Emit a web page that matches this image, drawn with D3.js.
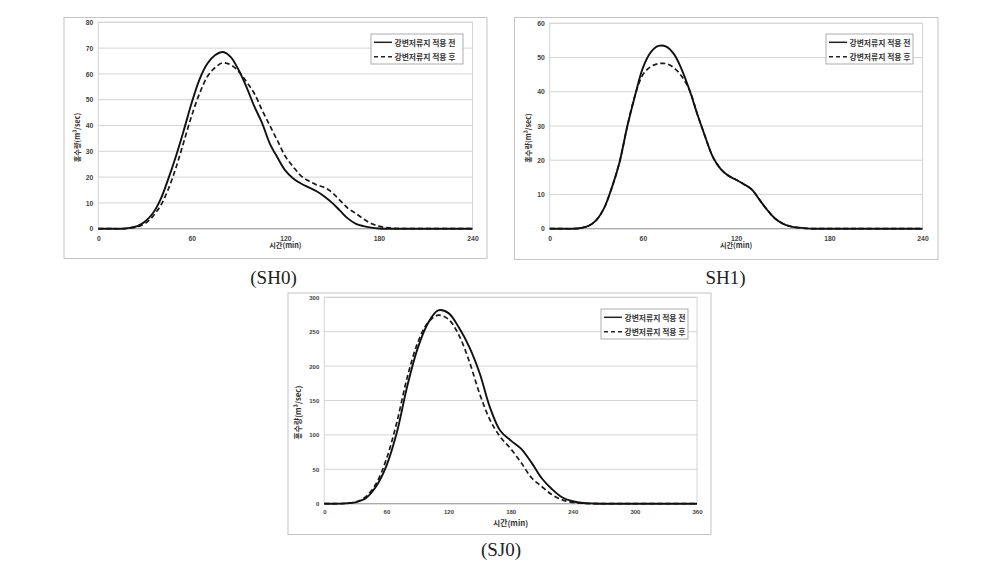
<!DOCTYPE html>
<html><head><meta charset="utf-8">
<script src="https://cdn.jsdelivr.net/npm/d3@7"></script>
<style>
html,body{margin:0;padding:0;background:#fff;}
svg{display:block;}
</style></head>
<body>
<svg id="chart" width="1007" height="565"></svg>
<script>
// ---------- DATA ----------
const seriesNames = ["강변저류지 적용 전", "강변저류지 적용 후"];
const captions = ["(SH0)", "SH1)", "(SJ0)"];
const xAxisTitle = "시간(min)";
const yAxisTitle = "홍수량(m³/sec)";

const sh0Time = [0,5,10,15,20,25,30,35,40,45,50,55,60,65,70,75,80,85,90,95,100,105,110,115,120,125,130,135,140,145,150,155,160,165,170,175,180,185,190,195,200,240];
const sh0Before = [0,0,0,0,0.3,1.0,2.8,6,11.5,19.5,28.5,38.5,49,58,64,67.3,68.5,66.5,61.5,55,47.5,41,33,27.5,22.5,19.5,17.5,16,14.5,12.5,10,7,4,2,1,0.4,0.1,0,0,0,0,0];
const sh0After  = [0,0,0,0,0.2,0.7,2,4.8,9,15.5,24,34,44,52.5,59,62.5,64.3,63.5,61,57,52.5,46,40,34,28,24,20.5,18.5,17,16,14,11,8,6,3.8,2,1,0.4,0.1,0,0,0];
const sh0XTicks = [0,60,120,180,240];
const sh0YTicks = [0,10,20,30,40,50,60,70,80];

const sh1Time = [0,5,10,15,20,25,30,35,40,45,50,55,60,65,70,75,80,85,90,95,100,105,110,115,120,125,130,135,140,145,150,155,160,165,170,175,180,185,190,195,200,240];
const sh1Before = [0,0,0,0,0.2,0.8,2.5,6,12,19.5,30,39,47,51.5,53.4,53.2,51,46.5,40.5,33.5,27,21,17.5,15.5,14.3,13,11.5,8.5,5.5,3,1.5,0.7,0.3,0.1,0,0,0,0,0,0,0,0];
const sh1After  = [0,0,0,0,0.2,0.8,2.5,6,12,19.5,30,39,45,47.3,48.2,48.2,47,44.5,40.5,33.5,27,21,17.5,15.5,14.3,13,11.5,8.5,5.5,3,1.5,0.7,0.3,0.1,0,0,0,0,0,0,0,0];
const sh1XTicks = [0,60,120,180,240];
const sh1YTicks = [0,10,20,30,40,50,60];

const sj0Time = [0,10,20,30,40,50,60,70,80,90,100,110,120,130,140,150,160,170,180,190,200,210,220,230,240,250,260,270,360];
const sj0Before = [0,0,0.5,2,8,25,55,103,170,225,262,281,277,256,228,190,140,106,92,80,60,37,21,9,3.5,1,0.3,0,0];
const sj0After  = [0,0,0.5,2.5,10,29,65,118,183,233,263,274,268,245,207,160,122,97,80,60,38,25,13,5.5,1.8,0.5,0,0,0];
const sj0XTicks = [0,60,120,180,240,300,360];
const sj0YTicks = [0,50,100,150,200,250,300];

// ---------- LAYOUT ----------
const panels = [
  {time: sh0Time, a: sh0Before, b: sh0After, xt: sh0XTicks, yt: sh0YTicks, xMax: 240, yMax: 80,
   box: [64, 17.5, 487, 258.5], plot: [98.3, 22.3, 472.5, 228.7], legend: [371, 34, 92, 30],
   yTitleX: 77, cap: captions[0], capX: 273.5, capY: 284, fs: 6.8, titleFs: 7.2, tickPad: 7, titleDy: 19.5},
  {time: sh1Time, a: sh1Before, b: sh1After, xt: sh1XTicks, yt: sh1YTicks, xMax: 240, yMax: 60,
   box: [514.5, 17.5, 938, 259.5], plot: [549.7, 23.3, 922.5, 228.7], legend: [826, 34, 87, 30],
   yTitleX: 528, cap: captions[1], capX: 725.5, capY: 284, fs: 6.8, titleFs: 7.2, tickPad: 7, titleDy: 19.5},
  {time: sj0Time, a: sj0Before, b: sj0After, xt: sj0XTicks, yt: sj0YTicks, xMax: 360, yMax: 300,
   box: [288, 293, 711, 534.5], plot: [324.3, 297.3, 697, 503.7], legend: [601, 309, 87, 30],
   yTitleX: 297, cap: captions[2], capX: 501, capY: 556, fs: 6, titleFs: 7.8, tickPad: 6, titleDy: 22}
];

const svg = d3.select("#chart");
const fontSans = "'Liberation Sans', Arial, 'Noto Sans CJK KR', sans-serif";
const fontKr = "'Noto Sans CJK KR', 'Liberation Sans', sans-serif";

panels.forEach(p => {
  const g = svg.append("g");
  const [bx0, by0, bx1, by1] = p.box;
  g.append("rect").attr("x", bx0).attr("y", by0).attr("width", bx1 - bx0).attr("height", by1 - by0)
    .attr("fill", "#fff").attr("stroke", "#c4c4c4").attr("stroke-width", 1);

  const [px0, py0, px1, py1] = p.plot;
  const x = d3.scaleLinear().domain([0, p.xMax]).range([px0, px1]);
  const y = d3.scaleLinear().domain([0, p.yMax]).range([py1, py0]);

  // gridlines
  g.append("g").selectAll("line").data(p.yt).join("line")
    .attr("x1", px0).attr("x2", px1).attr("y1", d => y(d)).attr("y2", d => y(d))
    .attr("stroke", "#d4d4d4").attr("stroke-width", 1);
  // plot border
  g.append("rect").attr("x", px0).attr("y", py0).attr("width", px1 - px0).attr("height", py1 - py0)
    .attr("fill", "none").attr("stroke", "#d4d4d4").attr("stroke-width", 1);
  g.append("line").attr("x1", px0).attr("x2", px1).attr("y1", py1).attr("y2", py1)
    .attr("stroke", "#a0a0a0").attr("stroke-width", 1);

  // y ticks
  const yAxis = d3.axisLeft(y).tickValues(p.yt).tickSize(0).tickPadding(5);
  const ya = g.append("g").attr("transform", `translate(${px0},0)`).call(yAxis);
  ya.select(".domain").remove();
  ya.selectAll("text").attr("font-family", fontSans).attr("font-size", p.fs).attr("font-weight", "bold").attr("fill", "#444");

  // x ticks
  const xAxis = d3.axisBottom(x).tickValues(p.xt).tickSize(0).tickPadding(p.tickPad);
  const xa = g.append("g").attr("transform", `translate(0,${py1})`).call(xAxis);
  xa.select(".domain").remove();
  xa.selectAll("text").attr("font-family", fontSans).attr("font-size", p.fs).attr("font-weight", "bold").attr("fill", "#444");

  // axis titles
  g.append("text").attr("x", (px0 + px1) / 2).attr("y", py1 + p.titleDy)
    .attr("text-anchor", "middle").attr("font-family", fontKr).attr("font-size", p.titleFs)
    .attr("font-weight", "bold").attr("fill", "#333").text(xAxisTitle);
  g.append("text").attr("transform", `translate(${p.yTitleX},${(py0 + py1) / 2 + 12}) rotate(-90)`)
    .attr("text-anchor", "middle").attr("dominant-baseline", "central").attr("font-family", fontKr).attr("font-size", p.titleFs)
    .attr("font-weight", "bold").attr("fill", "#333").text(yAxisTitle);

  // lines
  const line = d3.line().x(d => x(d[0])).y(d => y(Math.max(0, d[1]))).curve(d3.curveCatmullRom.alpha(0.5));
  const dataA = p.time.map((t, i) => [t, p.a[i]]);
  const dataB = p.time.map((t, i) => [t, p.b[i]]);
  g.append("path").attr("d", line(dataB)).attr("fill", "none").attr("stroke", "#1a1a1a")
    .attr("stroke-width", 1.7).attr("stroke-dasharray", "5,3");
  g.append("path").attr("d", line(dataA)).attr("fill", "none").attr("stroke", "#111")
    .attr("stroke-width", 1.9);

  // legend
  const [lx, ly, lw, lh] = p.legend;
  const lg = g.append("g");
  lg.append("rect").attr("x", lx).attr("y", ly).attr("width", lw).attr("height", lh)
    .attr("fill", "#fff").attr("stroke", "#999").attr("stroke-width", 0.8);
  const rows = [{name: seriesNames[0], dash: null, dy: 8.3}, {name: seriesNames[1], dash: "4,3", dy: 22.7}];
  rows.forEach(r => {
    const l = lg.append("line").attr("x1", lx + 3).attr("x2", lx + 21).attr("y1", ly + r.dy).attr("y2", ly + r.dy)
      .attr("stroke", "#222").attr("stroke-width", 1.5);
    if (r.dash) l.attr("stroke-dasharray", r.dash);
    lg.append("text").attr("x", lx + 23.5).attr("y", ly + r.dy).attr("dominant-baseline", "central")
      .attr("font-family", fontKr).attr("font-size", 7.8).attr("font-weight", "bold").attr("fill", "#333")
      .text(r.name);
  });

  // caption
  svg.append("text").attr("x", p.capX).attr("y", p.capY).attr("text-anchor", "middle")
    .attr("font-family", "'Liberation Serif', 'DejaVu Serif', serif").attr("font-size", 19).attr("fill", "#222")
    .text(p.cap);
});
</script>
</body></html>
